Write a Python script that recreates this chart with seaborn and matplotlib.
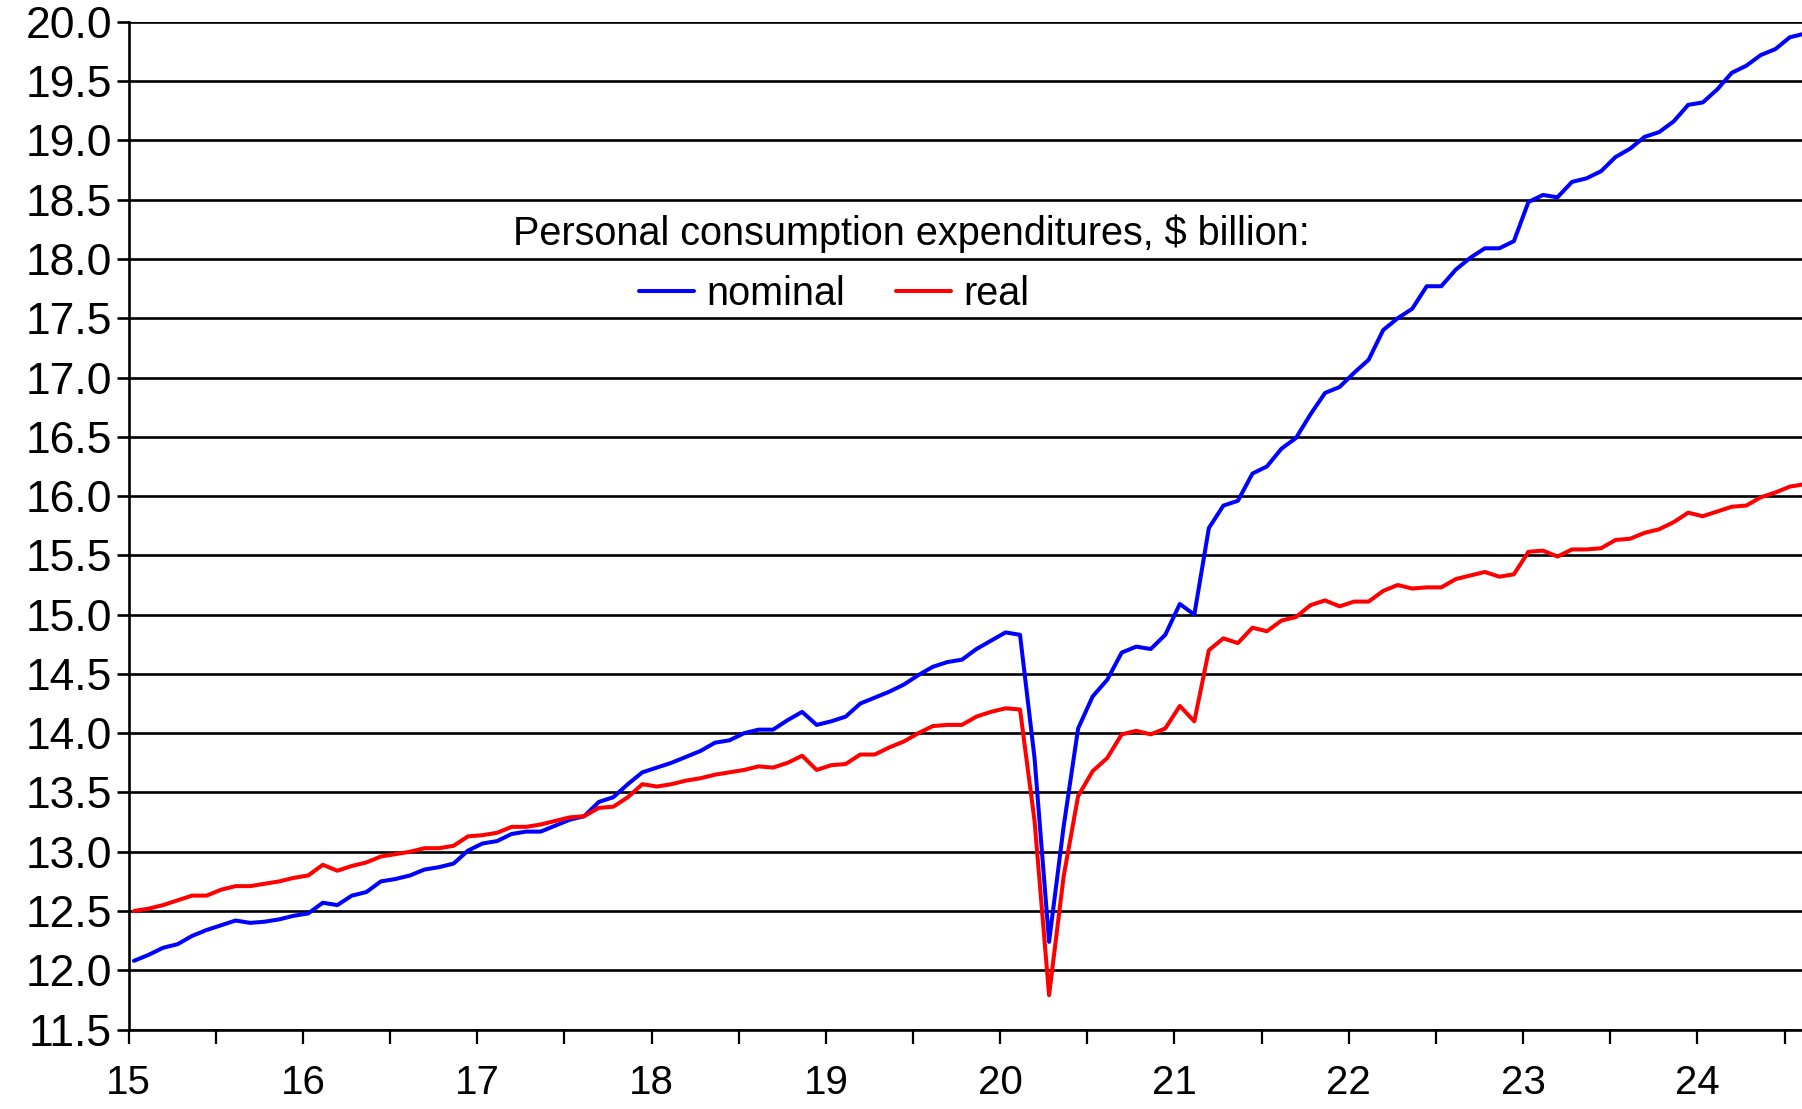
import numpy as np
import pandas as pd
import matplotlib.pyplot as plt
import seaborn as sns
from matplotlib.ticker import FormatStrFormatter

# ── DATA: monthly PCE, Jan 2015 - Aug 2024 ──
months = pd.date_range('2015-01-01', periods=116, freq='MS')

nominal = [
    12.08, 12.13, 12.19, 12.22, 12.29, 12.34, 12.38, 12.42, 12.40, 12.41, 12.43, 12.46,
    12.48, 12.57, 12.55, 12.63, 12.66, 12.75, 12.77, 12.80, 12.85, 12.87, 12.90, 13.01,
    13.07, 13.09, 13.15, 13.17, 13.17, 13.22, 13.27, 13.30, 13.42, 13.46, 13.57, 13.67,
    13.71, 13.75, 13.80, 13.85, 13.92, 13.94, 14.00, 14.03, 14.03, 14.11, 14.18, 14.07,
    14.10, 14.14, 14.25, 14.30, 14.35, 14.41, 14.49, 14.56, 14.60, 14.62, 14.71, 14.78,
    14.85, 14.83, 13.79, 12.24, 13.21, 14.04, 14.31, 14.45, 14.68, 14.73, 14.71, 14.83,
    15.09, 15.00, 15.73, 15.92, 15.96, 16.19, 16.25, 16.40, 16.49, 16.69, 16.87, 16.92,
    17.04, 17.15, 17.40, 17.50, 17.58, 17.77, 17.77, 17.91, 18.01, 18.09, 18.09, 18.15,
    18.48, 18.54, 18.52, 18.65, 18.68, 18.74, 18.86, 18.93, 19.03, 19.07, 19.16, 19.30,
    19.32, 19.43, 19.57, 19.63, 19.72, 19.77, 19.87, 19.90,
]

real = [
    12.50, 12.52, 12.55, 12.59, 12.63, 12.63, 12.68, 12.71, 12.71, 12.73, 12.75, 12.78,
    12.80, 12.89, 12.84, 12.88, 12.91, 12.96, 12.98, 13.00, 13.03, 13.03, 13.05, 13.13,
    13.14, 13.16, 13.21, 13.21, 13.23, 13.26, 13.29, 13.30, 13.37, 13.38, 13.46, 13.57,
    13.55, 13.57, 13.60, 13.62, 13.65, 13.67, 13.69, 13.72, 13.71, 13.75, 13.81, 13.69,
    13.73, 13.74, 13.82, 13.82, 13.88, 13.93, 14.00, 14.06, 14.07, 14.07, 14.14, 14.18,
    14.21, 14.20, 13.26, 11.79, 12.79, 13.47, 13.68, 13.79, 13.99, 14.02, 13.99, 14.04,
    14.23, 14.10, 14.70, 14.80, 14.76, 14.89, 14.86, 14.95, 14.98, 15.08, 15.12, 15.07,
    15.11, 15.11, 15.20, 15.25, 15.22, 15.23, 15.23, 15.30, 15.33, 15.36, 15.32, 15.34,
    15.53, 15.54, 15.49, 15.55, 15.55, 15.56, 15.63, 15.64, 15.69, 15.72, 15.78, 15.86,
    15.83, 15.87, 15.91, 15.92, 15.99, 16.03, 16.08, 16.10,
]

year_labels = ['15', '16', '17', '18', '19', '20', '21', '22', '23', '24']
legend_title = 'Personal consumption expenditures, $ billion:'

# two-digit year as a continuous axis, one step per month
yr = months.year - 2000 + (months.month - 1 + 0.365) / 12

df = pd.DataFrame({'yr': yr, 'nominal': nominal, 'real': real})
df_long = df.melt(id_vars='yr', var_name='series', value_name='value')

# ── PLOT ─────────────────────────────────────────────────────
sns.set_theme(style='white')
plt.rcParams['font.family'] = ['Liberation Sans', 'DejaVu Sans']
plt.rcParams['text.color'] = 'black'
plt.rcParams['xtick.color'] = 'black'
plt.rcParams['ytick.color'] = 'black'

fig = plt.figure(figsize=(18.02, 11.09), dpi=100)
ax = fig.add_axes([0.0714, 0.0716, 0.9286, 0.9087])

sns.lineplot(data=df_long, x='yr', y='value', hue='series',
             palette={'nominal': '#0000FF', 'real': '#FF0000'},
             linewidth=2.9, ax=ax)

ax.set_xlim(15, 24.6)
ax.set_ylim(11.5, 20.0)
ax.set_yticks(np.arange(11.5, 20.01, 0.5))
ax.yaxis.set_major_formatter(FormatStrFormatter('%.1f'))
ax.set_xticks(np.arange(15, 25), labels=year_labels)
ax.set_xticks(np.arange(15.5, 25, 1.0), minor=True)
ax.set_xlabel('')
ax.set_ylabel('')

ax.grid(axis='y', color='black', linewidth=1.9)
ax.set_axisbelow(True)
for side in ['top', 'right']:
    ax.spines[side].set_visible(False)
for side in ['left', 'bottom']:
    ax.spines[side].set_color('black')
    ax.spines[side].set_linewidth(1.9)

ax.tick_params(axis='y', which='major', direction='out', length=9, width=1.9,
               labelsize=32, pad=3, left=True)
ax.tick_params(axis='x', which='both', direction='out', length=10, width=1.6,
               bottom=True)
ax.tick_params(axis='x', which='major', labelsize=29, pad=15)

ax.text(0.468, 0.790, legend_title, transform=ax.transAxes,
        ha='center', va='center', fontsize=28.5)
leg = ax.legend(loc='center', bbox_to_anchor=(0.4215, 0.730), ncol=2,
                frameon=False, fontsize=28.5, handlelength=1.4,
                handletextpad=0.3, columnspacing=1.3)
for line in leg.get_lines():
    line.set_linewidth(2.9)

fig.savefig('out.png', dpi=100)
